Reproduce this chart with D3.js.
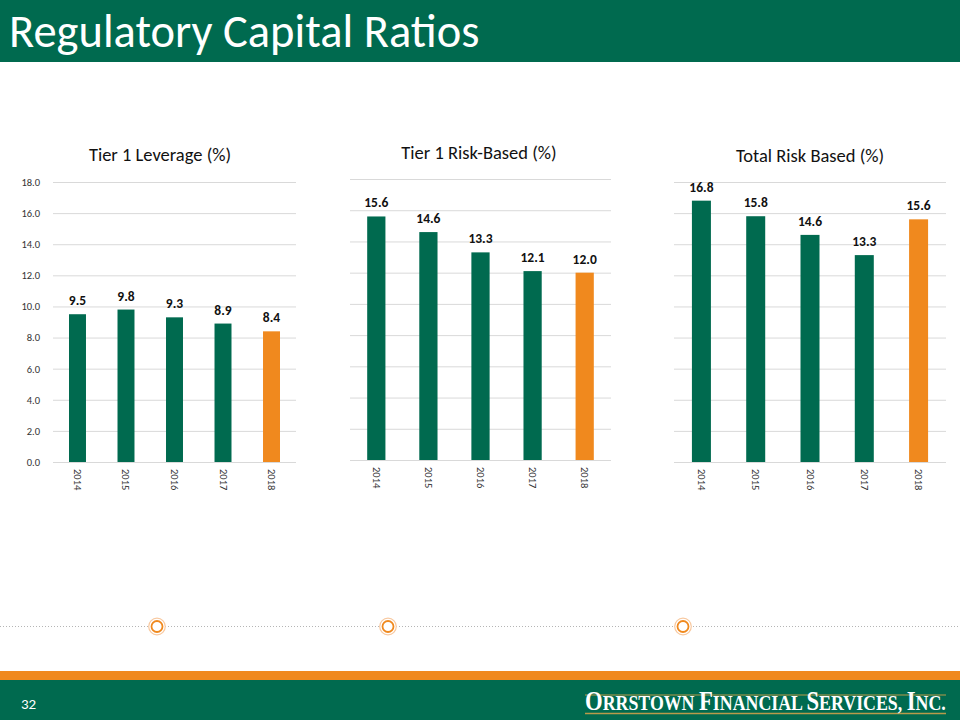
<!DOCTYPE html>
<html><head><meta charset="utf-8">
<script src="https://cdn.jsdelivr.net/npm/d3@7"></script>
<style>body{margin:0;background:#fff}svg{display:block;font-family:Carlito,Calibri,Lato,"Open Sans",sans-serif}</style>
</head><body>
<svg id="c" width="960" height="720"></svg>
<script>
const years = ["2014","2015","2016","2017","2018"];
const tier1Leverage = [9.5, 9.8, 9.3, 8.9, 8.4];
const tier1RiskBased = [15.6, 14.6, 13.3, 12.1, 12.0];
const totalRiskBased = [16.8, 15.8, 14.6, 13.3, 15.6];
const yTicks = [0,2,4,6,8,10,12,14,16,18];
const chartTitles = ["Tier 1 Leverage (%)", "Tier 1 Risk-Based (%)", "Total Risk Based (%)"];

const GREEN = "#006A4F", ORANGE = "#F0891E";
const svg = d3.select("#c");

// header
svg.append("rect").attr("x",0).attr("y",0).attr("width",960).attr("height",62).attr("fill",GREEN);
svg.append("text").attr("x",9).attr("y",47).attr("fill","#fff").attr("font-size",46.5).text("Regulatory Capital Ratios");

const panels = [
  {data: tier1Leverage, x0:53, x1:296, y0:462, y1:182, showAxis:true, tx:160, ty:161},
  {data: tier1RiskBased, x0:350, x1:611, y0:460, y1:179, showAxis:false, tx:479, ty:159},
  {data: totalRiskBased, x0:674, x1:946, y0:462, y1:182, showAxis:false, tx:810, ty:162}
];

panels.forEach((p,i) => {
  const g = svg.append("g");
  const x = d3.scaleBand().domain(years).range([p.x0,p.x1]).paddingInner(0.65).paddingOuter(0.33);
  const y = d3.scaleLinear().domain([0,18]).range([p.y0,p.y1]);
  g.selectAll("line.grid").data(yTicks).join("line").attr("class","grid")
    .attr("x1",p.x0).attr("x2",p.x1).attr("y1",d=>y(d)+0.5).attr("y2",d=>y(d)+0.5)
    .attr("stroke","#d9d9d9").attr("stroke-width",1);
  if (p.showAxis) {
    const ax = g.append("g").attr("transform",`translate(${p.x0},0)`)
      .call(d3.axisLeft(y).tickValues(yTicks).tickFormat(d3.format(".1f")).tickSize(0).tickPadding(13));
    ax.select(".domain").remove();
    ax.selectAll("text").attr("font-size",10.5).attr("fill","#333").attr("font-family","Carlito,Calibri,Lato,sans-serif");
  }
  g.selectAll("rect.bar").data(p.data).join("rect").attr("class","bar")
    .attr("x",(d,j)=>x(years[j])).attr("width",x.bandwidth())
    .attr("y",d=>y(d)).attr("height",d=>p.y0-y(d))
    .attr("fill",(d,j)=>j===years.length-1?ORANGE:GREEN);
  g.selectAll("text.val").data(p.data).join("text").attr("class","val")
    .attr("x",(d,j)=>x(years[j])+x.bandwidth()/2).attr("y",d=>y(d)-9)
    .attr("text-anchor","middle").attr("font-size",13.5).attr("font-weight","bold").attr("fill","#111")
    .text(d=>d3.format(".1f")(d));
  g.selectAll("text.yr").data(years).join("text").attr("class","yr")
    .attr("transform",d=>`translate(${x(d)+x.bandwidth()/2-3.5},${p.y0+7}) rotate(90)`)
    .attr("font-size",10.5).attr("fill","#333").text(d=>d);
  g.append("text").attr("x",p.tx).attr("y",p.ty).attr("text-anchor","middle")
    .attr("font-size",18.5).attr("fill","#111").text(chartTitles[i]);
});

// footer dotted line and circles
svg.append("line").attr("x1",0).attr("x2",960).attr("y1",626.5).attr("y2",626.5)
  .attr("stroke","#b5b5b5").attr("stroke-width",1).attr("stroke-dasharray","1,2");
[157,388,683].forEach(cx => {
  svg.append("circle").attr("cx",cx).attr("cy",626.5).attr("r",8.3).attr("fill","#fff").attr("stroke","#F8C9A0").attr("stroke-width",1.2);
  svg.append("circle").attr("cx",cx).attr("cy",626.5).attr("r",5.5).attr("fill","#fff").attr("stroke",ORANGE).attr("stroke-width",1.8);
});
svg.append("rect").attr("x",0).attr("y",671).attr("width",960).attr("height",9).attr("fill",ORANGE);
svg.append("rect").attr("x",0).attr("y",680).attr("width",960).attr("height",40).attr("fill",GREEN);
svg.append("text").attr("x",21).attr("y",709).attr("fill","#fff").attr("font-size",15).text("32");
svg.append("line").attr("x1",585).attr("x2",946).attr("y1",695).attr("y2",695).attr("stroke","#B89A4A").attr("stroke-width",1.2);
svg.append("line").attr("x1",585).attr("x2",946).attr("y1",713.5).attr("y2",713.5).attr("stroke","#B89A4A").attr("stroke-width",1.5);
const coG = svg.append("g");
const co = coG.append("text").attr("x",0).attr("y",0).attr("fill","#fff").attr("font-weight","bold")
  .attr("font-family","'Liberation Serif','DejaVu Serif',serif");
[["O",28],["RRSTOWN ",22],["F",28],["INANCIAL ",22],["S",28],["ERVICES, ",22],["I",28],["NC.",22]].forEach(([t,s])=>{
  co.append("tspan").attr("font-size",s).text(t);
});
const w = co.node().getComputedTextLength() || 400;
coG.attr("transform",`translate(585,710) scale(${361/w},1)`);
</script>
</body></html>
